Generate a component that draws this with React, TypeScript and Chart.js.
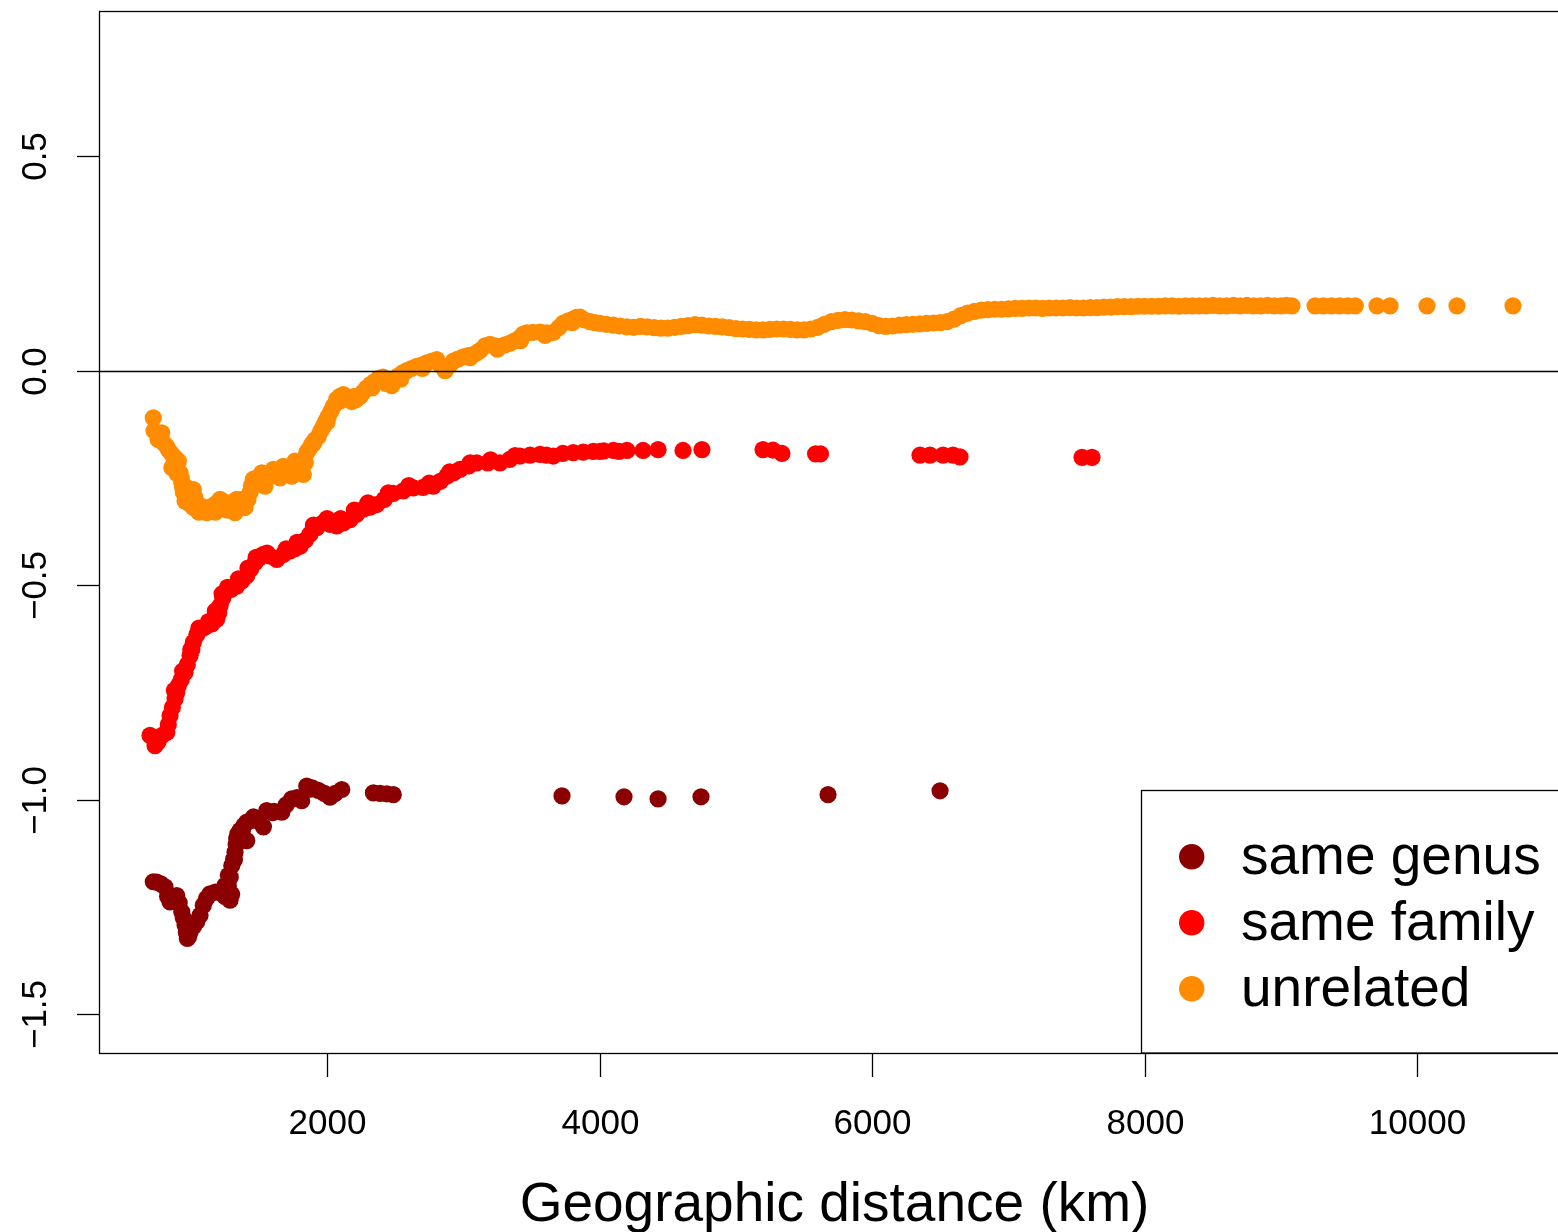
import React, { useEffect, useRef } from "react";
import { Chart, registerables } from "chart.js";

Chart.register(...registerables);

// ---- data (distance in km, value) ----
const genusDistance = [
  725, 750, 780, 811, 830, 848, 870, 897, 915, 934, 945, 958, 968, 975, 985, 995, 1020, 1044, 1068, 1092,
  1115, 1141, 1180, 1215, 1250, 1288, 1276, 1276, 1301, 1315, 1325, 1333, 1337, 1362, 1390, 1411, 1411,
  1450, 1484, 1533, 1557, 1610, 1668, 1700, 1741, 1814, 1851, 1890, 1936, 1980, 2022, 2060, 2108, 2340,
  2390, 2438, 2486, 3724, 4179, 4429, 4744, 5676, 6498,
  1250, 1290, 1300, 1320, 1345, 1380, 1460, 1500, 1600, 1780, 1880,
];
const genusValue = [
  -1.191, -1.192, -1.196, -1.203, -1.225, -1.238, -1.232, -1.223, -1.24, -1.261, -1.275, -1.292, -1.31,
  -1.323, -1.318, -1.308, -1.295, -1.284, -1.269, -1.246, -1.23, -1.219, -1.215, -1.215, -1.225, -1.234,
  -1.2, -1.176, -1.153, -1.138, -1.122, -1.105, -1.091, -1.071, -1.06, -1.052, -1.095, -1.048, -1.044,
  -1.063, -1.025, -1.027, -1.029, -1.012, -0.998, -1.002, -0.968, -0.972, -0.978, -0.985, -0.994, -0.985,
  -0.976, -0.984, -0.985, -0.986, -0.988, -0.991, -0.993, -0.998, -0.993, -0.988, -0.979,
  -1.2, -1.18, -1.22, -1.14, -1.08, -1.07, -1.04, -1.05, -1.03, -0.995, -0.975,
];

const familyDistance = [
  701, 738, 760, 790, 824, 835, 848, 865, 885, 897, 909, 930, 958, 975, 995, 1008, 1019, 1045, 1068, 1090,
  1117, 1155, 1191, 1205, 1215, 1235, 1252, 1295, 1337, 1375, 1411, 1440, 1472, 1500, 1533, 1580, 1631,
  1680, 1729, 1765, 1802, 1840, 1875, 1925, 1973, 2020, 2071, 2120, 2169, 2215, 2266, 2315, 2365, 2420,
  2486, 2560, 2633, 2705, 2780, 2830, 2878, 2930, 2976, 3040, 3098, 3180, 3269, 3340, 3416, 3490, 3563,
  3610, 3660, 3730, 3807, 3880, 3954, 4003, 4030, 4101, 4143, 4201, 4319, 4429, 4612, 4751, 5199, 5272,
  5338, 5585, 5620, 6351, 6424, 6520, 6593, 6644, 7540, 7613,
  880, 940, 1000, 1060, 1130, 1180, 1230, 1270, 1350, 1420, 1480, 1560, 1700, 1780, 1900, 2000, 2100,
  2200, 2300, 2450, 2600, 2750, 2900, 3050, 3200, 3380,
];
const familyValue = [
  -0.85, -0.874, -0.865, -0.85, -0.843, -0.825, -0.804, -0.785, -0.765, -0.75, -0.734, -0.72, -0.703,
  -0.685, -0.664, -0.65, -0.633, -0.615, -0.602, -0.6, -0.595, -0.59, -0.579, -0.565, -0.548, -0.53, -0.517,
  -0.51, -0.502, -0.49, -0.478, -0.462, -0.447, -0.437, -0.428, -0.432, -0.44, -0.428, -0.42, -0.415,
  -0.409, -0.395, -0.381, -0.366, -0.354, -0.358, -0.362, -0.355, -0.347, -0.335, -0.323, -0.318, -0.312,
  -0.3, -0.286, -0.28, -0.273, -0.272, -0.269, -0.258, -0.246, -0.238, -0.23, -0.222, -0.215, -0.215,
  -0.215, -0.207, -0.199, -0.197, -0.195, -0.197, -0.199, -0.193, -0.191, -0.19, -0.188, -0.188, -0.187,
  -0.186, -0.188, -0.186, -0.186, -0.184, -0.186, -0.184, -0.184, -0.185, -0.193, -0.194, -0.194, -0.197,
  -0.197, -0.197, -0.197, -0.201, -0.202, -0.202,
  -0.745, -0.7, -0.65, -0.6, -0.585, -0.56, -0.52, -0.505, -0.485, -0.46, -0.435, -0.425, -0.415, -0.4,
  -0.36, -0.345, -0.345, -0.325, -0.308, -0.285, -0.268, -0.262, -0.236, -0.215, -0.208, -0.198,
];

const unrelatedDistance = [
  725, 730, 770, 787, 799, 820, 836, 855, 872, 890, 909, 861, 921, 930, 934, 940, 946, 958, 975, 1000,
  1019, 1031, 1019, 1050, 1081, 1100, 1117, 1135, 1154, 1185, 1215, 1215, 1245, 1276, 1300, 1325, 1337,
  1360, 1398, 1420, 1435, 1445, 1459, 1490, 1521, 1545, 1575, 1606, 1630, 1655, 1679, 1710, 1741, 1765,
  1795, 1826, 1840, 1851, 1870, 1888, 1910, 1936, 1955, 1973, 1990, 2010, 2030, 2046, 2071, 2095, 2120,
  2150, 2181, 2210, 2242, 2265, 2291, 2320, 2352, 2380, 2410, 2445, 2475, 2500, 2523, 2555, 2585, 2620,
  2658, 2695, 2732, 2770, 2805, 2835, 2866, 2900, 2927, 2960, 3000, 3035, 3073, 3100, 3123, 3160, 3196,
  3230, 3269, 3305, 3343, 3380, 3416, 3440, 3465, 3510, 3563, 3610, 3660, 3700, 3734, 3770, 3807, 3830,
  3856, 3890, 3930, 3965, 4003, 4050, 4100, 4150, 4200, 4250, 4300, 4350, 4400, 4450, 4500, 4550, 4600,
  4650, 4700, 4750, 4800, 4850, 4900, 4950, 5000, 5050, 5100, 5150, 5200, 5250, 5300, 5350, 5400, 5450,
  5500, 5550, 5600, 5650, 5700, 5750, 5800, 5850, 5900, 5950, 6000, 6050, 6100, 6150, 6200, 6250, 6300,
  6350, 6400, 6450, 6500, 6550, 6600, 6650, 6700, 6750, 6800, 6850, 6900, 6950, 7000, 7050, 7100, 7150,
  7200, 7250, 7300, 7350, 7400, 7450, 7500, 7550, 7600, 7650, 7700, 7750, 7800, 7850, 7900, 7950, 8000,
  8050, 8100, 8150, 8200, 8250, 8300, 8350, 8400, 8450, 8500, 8550, 8600, 8650, 8700, 8750, 8800, 8850,
  8900, 8950, 9000, 9040, 9080, 9250, 9310, 9370, 9430, 9490, 9545, 9704, 9800, 10071, 10291, 10702,
  760, 880, 900, 960, 990, 1060, 1180, 1270, 1380, 1470, 1600, 1700, 1800, 1900, 2000, 2100, 2200, 2330,
  2430, 2540, 2700, 2880, 3050, 3250, 3420, 3600, 3800,
];
const unrelatedValue = [
  -0.11, -0.14, -0.15, -0.145, -0.168, -0.175, -0.184, -0.192, -0.199, -0.205, -0.211, -0.226, -0.238,
  -0.25, -0.261, -0.272, -0.284, -0.304, -0.3, -0.29, -0.277, -0.296, -0.319, -0.32, -0.316, -0.325,
  -0.331, -0.325, -0.316, -0.31, -0.3, -0.323, -0.312, -0.308, -0.32, -0.331, -0.3, -0.31, -0.319, -0.3,
  -0.284, -0.268, -0.253, -0.25, -0.238, -0.269, -0.24, -0.23, -0.24, -0.25, -0.223, -0.23, -0.246,
  -0.211, -0.225, -0.242, -0.215, -0.191, -0.182, -0.172, -0.162, -0.153, -0.14, -0.13, -0.118, -0.106,
  -0.094, -0.083, -0.067, -0.06, -0.056, -0.065, -0.072, -0.068, -0.06, -0.05, -0.04, -0.032, -0.025,
  -0.018, -0.015, -0.022, -0.035, -0.02, -0.012, -0.005, 0.0, 0.005, 0.01, 0.013, 0.018, 0.022, 0.026,
  0.012, 0.0, 0.012, 0.022, 0.027, 0.032, 0.035, 0.037, 0.042, 0.047, 0.058, 0.061, 0.058, 0.056, 0.06,
  0.064, 0.07, 0.077, 0.085, 0.088, 0.089, 0.09, 0.088, 0.089, 0.1, 0.111, 0.116, 0.12, 0.124, 0.125,
  0.118, 0.114, 0.112, 0.11, 0.108, 0.106, 0.104, 0.102, 0.101, 0.103, 0.102, 0.1, 0.099, 0.099, 0.101,
  0.103, 0.105, 0.107, 0.106, 0.104, 0.103, 0.102, 0.1, 0.098, 0.097, 0.096, 0.095, 0.095, 0.096, 0.097,
  0.097, 0.096, 0.095, 0.095, 0.097, 0.101, 0.108, 0.114, 0.117, 0.119, 0.118, 0.116, 0.114, 0.11, 0.105,
  0.103, 0.104, 0.106, 0.107, 0.108, 0.109, 0.11, 0.111, 0.112, 0.114, 0.12, 0.128, 0.134, 0.138, 0.141,
  0.142, 0.143, 0.143, 0.144, 0.145, 0.145, 0.146, 0.146, 0.145, 0.146, 0.146, 0.146, 0.147, 0.146,
  0.146, 0.147, 0.147, 0.148, 0.148, 0.149, 0.149, 0.149, 0.15, 0.15, 0.15, 0.15, 0.151, 0.151, 0.15,
  0.151, 0.151, 0.151, 0.151, 0.152, 0.151, 0.151, 0.152, 0.151, 0.152, 0.151, 0.151, 0.152, 0.151,
  0.151, 0.152, 0.151, 0.151, 0.151, 0.151, 0.151, 0.151, 0.151, 0.151, 0.151, 0.151, 0.151, 0.151,
  -0.16, -0.21, -0.24, -0.27, -0.31, -0.33, -0.33, -0.325, -0.3, -0.265, -0.245, -0.235, -0.225, -0.17,
  -0.12, -0.07, -0.06, -0.04, -0.03, -0.02, 0.005, 0.01, 0.03, 0.05, 0.07, 0.082, 0.112,
];

const seriesNames = ["same genus", "same family", "unrelated"];
const seriesColors = ["#8B0000", "#FF0000", "#FF8C00"];

const xTicks = [2000, 4000, 6000, 8000, 10000];
const xTickLabels = ["2000", "4000", "6000", "8000", "10000"];
const yTicks = [-1.5, -1.0, -0.5, 0.0, 0.5];
const yTickLabels = ["\u22121.5", "\u22121.0", "\u22120.5", "0.0", "0.5"];
const xTitle = "Geographic distance (km)";

const FONT = '"Liberation Sans", Arial, Helvetica, sans-serif';

function zip(xs: number[], ys: number[]) {
  return xs.map((x, i) => ({ x, y: ys[i] }));
}

const rPlotPlugin = {
  id: "rPlot",
  afterDatasetsDraw(chart: any) {
    const { ctx, chartArea: a, scales } = chart;
    const xs = scales.x;
    const ys = scales.y;
    ctx.save();
    ctx.strokeStyle = "#000";
    ctx.fillStyle = "#000";
    ctx.lineWidth = 1.3;

    const line = (x1: number, y1: number, x2: number, y2: number) => {
      ctx.beginPath();
      ctx.moveTo(x1, y1);
      ctx.lineTo(x2, y2);
      ctx.stroke();
    };

    // zero reference line
    const y0 = Math.round(ys.getPixelForValue(0)) + 0.5;
    line(a.left, y0, a.right, y0);

    // plot box
    ctx.strokeRect(Math.round(a.left) - 0.5, Math.round(a.top) + 0.5, a.right - a.left, Math.round(a.bottom - a.top));

    // x axis ticks and labels
    ctx.font = `35px ${FONT}`;
    ctx.textAlign = "center";
    ctx.textBaseline = "alphabetic";
    xTicks.forEach((v, i) => {
      const px = Math.round(xs.getPixelForValue(v)) + 0.5;
      line(px, a.bottom, px, a.bottom + 24);
      ctx.fillText(xTickLabels[i], px, a.bottom + 81);
    });

    // y axis ticks and rotated labels
    yTicks.forEach((v, i) => {
      const py = Math.round(ys.getPixelForValue(v)) + 0.5;
      line(a.left - 23, py, a.left, py);
      ctx.save();
      ctx.translate(a.left - 54, py);
      ctx.rotate(-Math.PI / 2);
      ctx.fillText(yTickLabels[i], 0, 0);
      ctx.restore();
    });

    // x axis title
    ctx.font = `55px ${FONT}`;
    ctx.fillText(xTitle, (a.left + a.right) / 2, a.bottom + 168);

    // legend
    const lx = 1141.5;
    const ly = 790.5;
    ctx.fillStyle = "#fff";
    ctx.fillRect(lx, ly, a.right - lx + 20, a.bottom - ly);
    ctx.strokeRect(lx, ly, a.right - lx + 20, a.bottom - ly);
    ctx.textAlign = "left";
    seriesNames.forEach((name, i) => {
      const cy = 856.7 + i * 66;
      ctx.fillStyle = seriesColors[i];
      ctx.beginPath();
      ctx.arc(1191.7, cy, 12.7, 0, Math.PI * 2);
      ctx.fill();
      ctx.fillStyle = "#000";
      ctx.fillText(name, 1241, cy + 17);
    });

    ctx.restore();
  },
};

export default function App() {
  const canvasRef = useRef<HTMLCanvasElement | null>(null);

  useEffect(() => {
    const canvas = canvasRef.current;
    if (!canvas) return;
    const seriesData = [
      zip(genusDistance, genusValue),
      zip(familyDistance, familyValue),
      zip(unrelatedDistance, unrelatedValue),
    ];
    const chart = new Chart(canvas, {
      type: "scatter",
      data: {
        datasets: seriesNames.map((name, i) => ({
          label: name,
          data: seriesData[i],
          backgroundColor: seriesColors[i],
          borderColor: seriesColors[i],
          borderWidth: 0,
          pointRadius: 8.6,
          pointHoverRadius: 8.6,
          showLine: false,
        })),
      },
      options: {
        responsive: false,
        animation: false,
        events: [],
        layout: { padding: { left: 100, top: 11, right: 31, bottom: 179 } },
        scales: {
          x: { type: "linear", display: false, min: 334, max: 11113 },
          y: { type: "linear", display: false, min: -1.59, max: 0.838 },
        },
        plugins: {
          legend: { display: false },
          tooltip: { enabled: false },
        },
      },
      plugins: [rPlotPlugin],
    });
    return () => chart.destroy();
  }, []);

  return (
    <div
      style={{
        position: "fixed",
        left: 0,
        top: 0,
        width: 1558,
        height: 1232,
        overflow: "hidden",
        background: "#fff",
      }}
    >
      <canvas ref={canvasRef} width={1600} height={1232} style={{ display: "block", width: 1600, height: 1232 }} />
    </div>
  );
}
